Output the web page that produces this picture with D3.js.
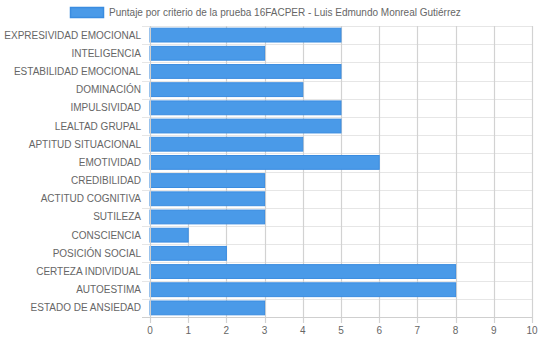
<!DOCTYPE html>
<html><head><meta charset="utf-8">
<script src="https://cdn.jsdelivr.net/npm/d3@7"></script>
<style>body{margin:0;background:#fff;}svg{display:block;font-family:"Liberation Sans",Arial,sans-serif;}</style>
</head><body><svg id="c" width="540" height="341"></svg>
<script>
const categories = ["EXPRESIVIDAD EMOCIONAL","INTELIGENCIA","ESTABILIDAD EMOCIONAL","DOMINACIÓN","IMPULSIVIDAD","LEALTAD GRUPAL","APTITUD SITUACIONAL","EMOTIVIDAD","CREDIBILIDAD","ACTITUD COGNITIVA","SUTILEZA","CONSCIENCIA","POSICIÓN SOCIAL","CERTEZA INDIVIDUAL","AUTOESTIMA","ESTADO DE ANSIEDAD"];
const values = [5,3,5,4,5,5,4,6,3,3,3,1,2,8,8,3];
const xTicks = [0,1,2,3,4,5,6,7,8,9,10];
const seriesName = "Puntaje por criterio de la prueba 16FACPER - Luis Edmundo Monreal Gutiérrez";

const svg = d3.select("#c");
const L = 150, R = 532, T = 26, B = 317;
const x = d3.scaleLinear().domain([0,10]).range([L,R]);
const y = d3.scaleBand().domain(categories).range([T,B]);
const fill = "#4a9ae8", stroke = "#3a8ce0";
const fs = 10;

// horizontal grid lines (category boundaries)
const bounds = categories.map(c => y(c)).concat([B]);
svg.append("g").selectAll("line").data(bounds).join("line")
  .attr("x1", L-8).attr("x2", R).attr("y1", d=>Math.round(d)+0.5).attr("y2", d=>Math.round(d)+0.5)
  .attr("stroke", "#e6e6e6").attr("stroke-width", 1);

// vertical grid lines
svg.append("g").selectAll("line").data(xTicks).join("line")
  .attr("x1", d=>Math.round(x(d))+0.5).attr("x2", d=>Math.round(x(d))+0.5)
  .attr("y1", T).attr("y2", B+6)
  .attr("stroke", "#d2d2d2").attr("stroke-width", 1.2);

// bars
const bh = y.bandwidth()*0.76;
svg.append("g").selectAll("rect").data(values).join("rect")
  .attr("x", x(0)).attr("y", (d,i)=>y(categories[i]) + (y.bandwidth()-bh)/2)
  .attr("width", d=>x(d)-x(0)).attr("height", bh)
  .attr("fill", fill).attr("stroke", stroke).attr("stroke-width", 1);

// axes lines
svg.append("line").attr("x1", L-8).attr("x2", R).attr("y1", B+0.5).attr("y2", B+0.5).attr("stroke","#cfcfcf");
svg.append("line").attr("x1", L+0.5).attr("x2", L+0.5).attr("y1", T).attr("y2", B+6).attr("stroke","#cfcfcf");

// y labels
svg.append("g").selectAll("text").data(categories).join("text")
  .attr("x", L-9).attr("y", d=>y(d)+y.bandwidth()/2).attr("dy","0.35em")
  .attr("text-anchor","end").attr("font-size", fs).attr("fill","#666").text(d=>d);

// x tick labels
svg.append("g").selectAll("text").data(xTicks).join("text")
  .attr("x", d=>x(d)).attr("y", B+13).attr("dy","0.35em")
  .attr("text-anchor","middle").attr("font-size", fs).attr("fill","#666").text(d=>d);

// legend
const lg = svg.append("g");
lg.append("rect").attr("x",70.5).attr("y",7.5).attr("width",33).attr("height",10)
  .attr("fill",fill).attr("stroke",stroke).attr("stroke-width",1.5);
lg.append("text").attr("x",109).attr("y",12.5).attr("dy","0.35em")
  .attr("font-size",fs).attr("fill","#666").text(seriesName);
</script></body></html>
